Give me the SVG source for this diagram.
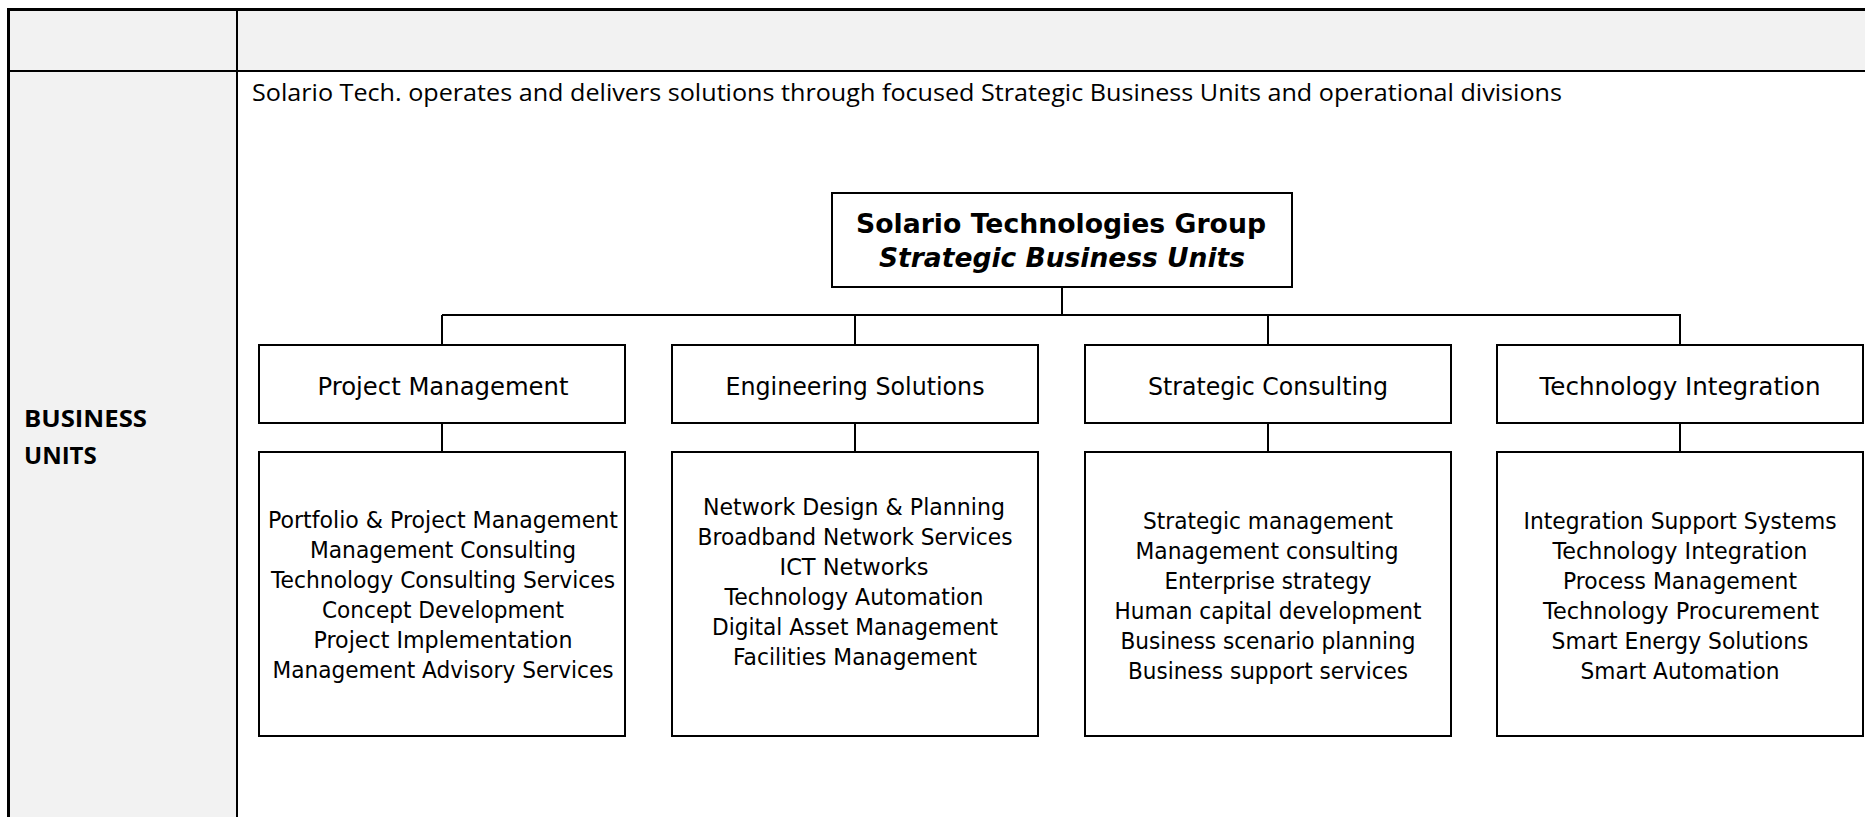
<svg xmlns="http://www.w3.org/2000/svg" width="1865" height="817" viewBox="0 0 1865 817">
<style>
.cell{fill:#f2f2f2}
.grid{stroke:#000;stroke-width:2;fill:none}
.box{fill:#fff;stroke:#000;stroke-width:2}
.conn{stroke:#000;stroke-width:2;fill:none}
.t{font-family:"DejaVu Sans","Liberation Sans",sans-serif;fill:#000;text-anchor:middle}
.l2{font-size:24.5px}
.l3{font-size:22.5px}
.title{font-size:27px;font-weight:bold}
.ui{font-family:"Open Sans","Noto Sans","Liberation Sans",sans-serif;fill:#000}
</style>
<rect x="0" y="0" width="1865" height="817" fill="#fff"/>
<g id="table">
<rect class="cell" x="8" y="9" width="1857" height="62"/>
<rect class="cell" x="8" y="71" width="229" height="746"/>
<path class="grid" d="M237 9 V817 M8 71 H1865"/>
<path d="M8.5 817 V9.5 H1865" stroke="#000" stroke-width="3" fill="none"/>
<text class="ui" x="24" y="427" font-size="24" font-weight="bold" textLength="123" lengthAdjust="spacingAndGlyphs">BUSINESS</text>
<text class="ui" x="24" y="464" font-size="24" font-weight="bold">UNITS</text>
<text class="ui" x="252" y="101" font-size="23.5" textLength="1310" lengthAdjust="spacingAndGlyphs">Solario Tech. operates and delivers solutions through focused Strategic Business Units and operational divisions</text>
</g>
<g id="connectors">
<path class="conn" d="M1062 288 V315 M442 315 H1681 M442 315 V345 M855 315 V345 M1268 315 V345 M1680 315 V345 M442 423 V452 M855 423 V452 M1268 423 V452 M1680 423 V452"/>
</g>
<g id="root">
<rect class="box" x="832" y="193" width="460" height="94"/>
<text class="t title" x="1061" y="233" textLength="410" lengthAdjust="spacingAndGlyphs">Solario Technologies Group</text>
<text class="t title" x="1062" y="267" font-style="italic" textLength="366" lengthAdjust="spacingAndGlyphs">Strategic Business Units</text>
</g>
<g id="unit-pm">
<rect class="box" x="259" y="345" width="366" height="78"/>
<text class="t l2" x="443" y="395" textLength="251" lengthAdjust="spacingAndGlyphs">Project Management</text>
</g>
<g id="unit-es">
<rect class="box" x="672" y="345" width="366" height="78"/>
<text class="t l2" x="855" y="395" textLength="259" lengthAdjust="spacingAndGlyphs">Engineering Solutions</text>
</g>
<g id="unit-sc">
<rect class="box" x="1085" y="345" width="366" height="78"/>
<text class="t l2" x="1268" y="395" textLength="240" lengthAdjust="spacingAndGlyphs">Strategic Consulting</text>
</g>
<g id="unit-ti">
<rect class="box" x="1497" y="345" width="366" height="78"/>
<text class="t l2" x="1680" y="395" textLength="281" lengthAdjust="spacingAndGlyphs">Technology Integration</text>
</g>
<g id="list-pm">
<rect class="box" x="259" y="452" width="366" height="284"/>
<text class="t l3" x="443" y="528" textLength="350" lengthAdjust="spacingAndGlyphs">Portfolio &amp; Project Management</text>
<text class="t l3" x="443" y="558" textLength="266" lengthAdjust="spacingAndGlyphs">Management Consulting</text>
<text class="t l3" x="443" y="588" textLength="344" lengthAdjust="spacingAndGlyphs">Technology Consulting Services</text>
<text class="t l3" x="443" y="618" textLength="242" lengthAdjust="spacingAndGlyphs">Concept Development</text>
<text class="t l3" x="443" y="648" textLength="259" lengthAdjust="spacingAndGlyphs">Project Implementation</text>
<text class="t l3" x="443" y="678" textLength="341" lengthAdjust="spacingAndGlyphs">Management Advisory Services</text>
</g>
<g id="list-es">
<rect class="box" x="672" y="452" width="366" height="284"/>
<text class="t l3" x="854" y="515" textLength="302" lengthAdjust="spacingAndGlyphs">Network Design &amp; Planning</text>
<text class="t l3" x="855" y="545" textLength="315" lengthAdjust="spacingAndGlyphs">Broadband Network Services</text>
<text class="t l3" x="854" y="575" textLength="149" lengthAdjust="spacingAndGlyphs">ICT Networks</text>
<text class="t l3" x="854" y="605" textLength="259" lengthAdjust="spacingAndGlyphs">Technology Automation</text>
<text class="t l3" x="855" y="635" textLength="286" lengthAdjust="spacingAndGlyphs">Digital Asset Management</text>
<text class="t l3" x="855" y="665" textLength="244" lengthAdjust="spacingAndGlyphs">Facilities Management</text>
</g>
<g id="list-sc">
<rect class="box" x="1085" y="452" width="366" height="284"/>
<text class="t l3" x="1268" y="529" textLength="250" lengthAdjust="spacingAndGlyphs">Strategic management</text>
<text class="t l3" x="1267" y="559" textLength="263" lengthAdjust="spacingAndGlyphs">Management consulting</text>
<text class="t l3" x="1268" y="589" textLength="207" lengthAdjust="spacingAndGlyphs">Enterprise strategy</text>
<text class="t l3" x="1268" y="619" textLength="307" lengthAdjust="spacingAndGlyphs">Human capital development</text>
<text class="t l3" x="1268" y="649" textLength="295" lengthAdjust="spacingAndGlyphs">Business scenario planning</text>
<text class="t l3" x="1268" y="679" textLength="280" lengthAdjust="spacingAndGlyphs">Business support services</text>
</g>
<g id="list-ti">
<rect class="box" x="1497" y="452" width="366" height="284"/>
<text class="t l3" x="1680" y="529" textLength="313" lengthAdjust="spacingAndGlyphs">Integration Support Systems</text>
<text class="t l3" x="1680" y="559" textLength="255" lengthAdjust="spacingAndGlyphs">Technology Integration</text>
<text class="t l3" x="1680" y="589" textLength="234" lengthAdjust="spacingAndGlyphs">Process Management</text>
<text class="t l3" x="1681" y="619" textLength="276" lengthAdjust="spacingAndGlyphs">Technology Procurement</text>
<text class="t l3" x="1680" y="649" textLength="257" lengthAdjust="spacingAndGlyphs">Smart Energy Solutions</text>
<text class="t l3" x="1680" y="679" textLength="199" lengthAdjust="spacingAndGlyphs">Smart Automation</text>
</g>
</svg>
